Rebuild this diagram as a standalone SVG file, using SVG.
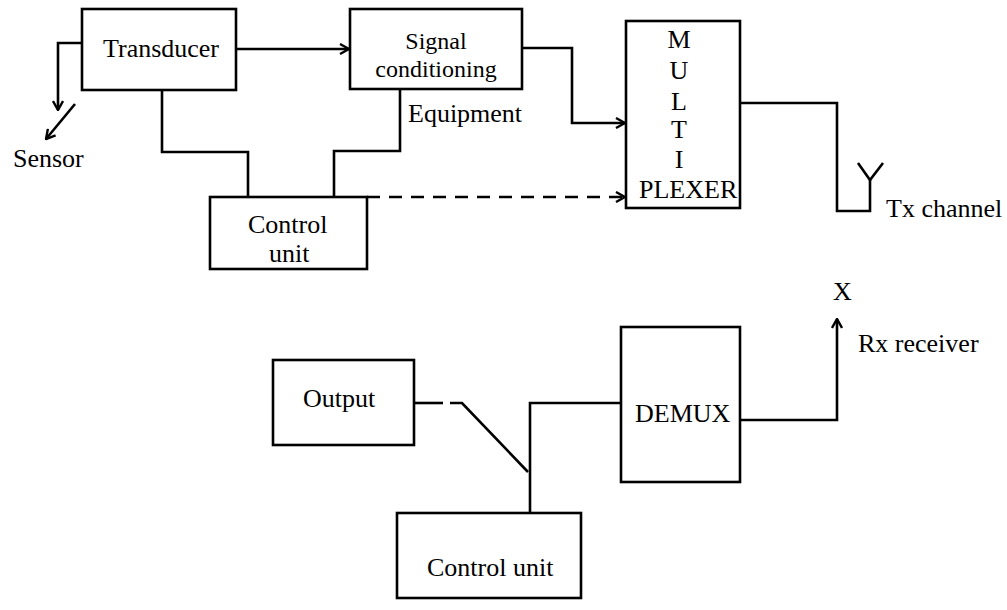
<svg xmlns="http://www.w3.org/2000/svg" width="1007" height="610" viewBox="0 0 1007 610">
  <style>
    .box { fill: #fff; stroke: #000; stroke-width: 2.6; }
    .ln { fill: none; stroke: #000; stroke-width: 2.6; stroke-linejoin: miter; }
    .dash { stroke-dasharray: 13 9; }
    .t { font-family: "Liberation Serif", "Times New Roman", serif; font-size: 26px; fill: #000; }
    .s { font-size: 24px; }
    .c { text-anchor: middle; }
  </style>
  <defs>
    <marker id="arrow" viewBox="0 0 12 12" refX="11" refY="6" markerWidth="12" markerHeight="12" markerUnits="userSpaceOnUse" orient="auto">
      <polyline points="2,1 11,6 2,11" fill="none" stroke="#000" stroke-width="2.4"/>
    </marker>
  </defs>

  <!-- connectors -->
  <g id="connectors">
    <!-- transducer to sensor -->
    <polyline class="ln" points="82,43 58,43 58,110" marker-end="url(#arrow)"/>
    <line class="ln" x1="75" y1="104" x2="46" y2="139" marker-end="url(#arrow)"/>
    <!-- transducer to signal conditioning -->
    <line class="ln" x1="236" y1="49" x2="349" y2="49" marker-end="url(#arrow)"/>
    <!-- transducer to control unit -->
    <polyline class="ln" points="162,90 162,152 248,152 248,197"/>
    <!-- signal conditioning to control unit -->
    <polyline class="ln" points="400,89 400,151 334,151 334,197"/>
    <!-- signal conditioning to multiplexer -->
    <polyline class="ln" points="522,48 572,48 572,123 625,123" marker-end="url(#arrow)"/>
    <!-- control unit to multiplexer (dashed) -->
    <line class="ln dash" x1="367" y1="197" x2="625" y2="197" marker-end="url(#arrow)"/>
    <!-- multiplexer to antenna -->
    <polyline class="ln" points="740,103 837,103 837,211 870,211 870,180"/>
    <polyline class="ln" points="858,163 870,180 883,163"/>
    <!-- demux to receiver -->
    <polyline class="ln" points="740,420 837,420 837,319" marker-end="url(#arrow)"/>
    <!-- output switch -->
    <line class="ln" x1="414" y1="403" x2="443" y2="403"/>
    <polyline class="ln" points="450,403 462,403 528,472"/>
    <polyline class="ln" points="530,513 530,403 621,403"/>
  </g>

  <!-- transmitter side -->
  <g id="transducer">
    <rect class="box" x="82" y="9" width="154" height="81"/>
    <text class="t" x="103" y="57">Transducer</text>
  </g>
  <g id="sensor">
    <text class="t" x="13" y="167">Sensor</text>
  </g>
  <g id="signal-conditioning">
    <rect class="box" x="350" y="9" width="172" height="80"/>
    <text class="t s c" x="436" y="49">Signal</text>
    <text class="t s c" x="436" y="77">conditioning</text>
    <text class="t" x="408" y="122">Equipment</text>
  </g>
  <g id="control-unit-tx">
    <rect class="box" x="210" y="197" width="157" height="72"/>
    <text class="t" x="248" y="233">Control</text>
    <text class="t" x="269" y="262">unit</text>
  </g>
  <g id="multiplexer">
    <rect class="box" x="626" y="21" width="114" height="187"/>
    <text class="t c" x="679" y="48">M</text>
    <text class="t c" x="679" y="79">U</text>
    <text class="t c" x="679" y="110">L</text>
    <text class="t c" x="679" y="138">T</text>
    <text class="t c" x="679" y="168">I</text>
    <text class="t" x="639" y="198">PLEXER</text>
  </g>
  <g id="tx-channel">
    <text class="t" x="886" y="217">Tx channel</text>
  </g>

  <!-- receiver side -->
  <g id="rx-receiver">
    <text class="t" x="833" y="300">X</text>
    <text class="t" x="858" y="352">Rx receiver</text>
  </g>
  <g id="demux">
    <rect class="box" x="621" y="327" width="119" height="155"/>
    <text class="t" x="635" y="422">DEMUX</text>
  </g>
  <g id="output">
    <rect class="box" x="273" y="360" width="141" height="85"/>
    <text class="t" x="303" y="407">Output</text>
  </g>
  <g id="control-unit-rx">
    <rect class="box" x="397" y="513" width="184" height="85"/>
    <text class="t" x="427" y="576">Control unit</text>
  </g>
</svg>
